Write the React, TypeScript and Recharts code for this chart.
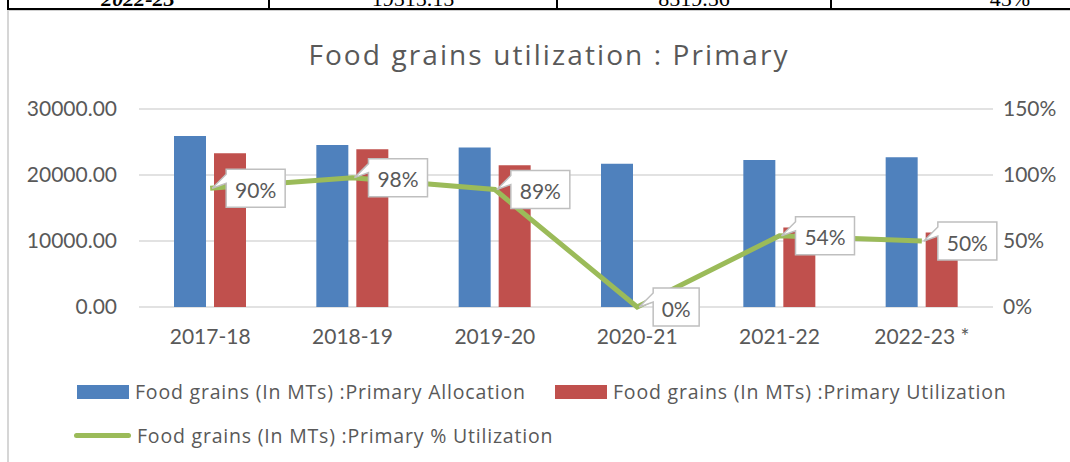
import React from "react";
import {
  ComposedChart,
  Bar,
  Line,
  XAxis,
  YAxis,
  CartesianGrid,
  LabelList,
} from "recharts";

const years = ["2017-18", "2018-19", "2019-20", "2020-21", "2021-22", "2022-23 *"];
const allocation = [25900, 24550, 24150, 21720, 22270, 22680];
const utilization = [23290, 23890, 21470, 0, 12060, 11300];
const pctUtilization = [90, 98, 89, 0, 54, 50];

const leftTicks = [0, 10000, 20000, 30000];
const rightTicks = [0, 50, 100, 150];

const tableRow = ["2022-23", "19515.15", "8519.56", "45%"];

const BLUE = "#4f81bd";
const RED = "#c0504d";
const GREEN = "#9bbb59";
const TEXT = "#595959";
const FONT = "Lato, 'Open Sans', sans-serif";
const WIDE_FONT = "'Open Sans', Lato, sans-serif";

const data = years.map((year, i) => ({
  year,
  allocation: allocation[i],
  utilization: utilization[i],
  pct: pctUtilization[i],
}));

// callout box for the % labels, drawn right of the point with a little pointer
function Callout(props: any) {
  const { x, y, value } = props;
  if (x == null || y == null) return null;
  const text = `${value}%`;
  const w = text.length === 2 ? 46 : 59;
  const h = 38;
  const bx = x + 16;
  const by = y - h / 2;
  const d = [
    `M${bx},${by}`,
    `L${bx + w},${by}`,
    `L${bx + w},${by + h}`,
    `L${bx},${by + h}`,
    `L${bx},${by + 14}`,
    `L${x + 2},${y}`,
    `L${bx},${by + 5}`,
    "Z",
  ].join(" ");
  return (
    <g>
      <path d={d} fill="#fff" stroke="#bfbfbf" strokeWidth={1.5} />
      <text
        x={bx + w / 2}
        y={y + 1}
        textAnchor="middle"
        dominantBaseline="central"
        fill={TEXT}
        fontSize={21}
        fontFamily={FONT}
      >
        {text}
      </text>
    </g>
  );
}

function LegendItem({ kind, color, label, left, top }: any) {
  return (
    <div style={{ position: "absolute", left, top, display: "flex", alignItems: "center" }}>
      {kind === "bar" ? (
        <div style={{ width: 52, height: 14, background: color }} />
      ) : (
        <div style={{ width: 57, height: 5, background: color, borderRadius: 3, marginLeft: -3 }} />
      )}
      <span
        style={{
          marginLeft: 6,
          fontSize: 19.5,
          letterSpacing: 0.8,
          color: TEXT,
          fontFamily: WIDE_FONT,
          whiteSpace: "nowrap",
        }}
      >
        {label}
      </span>
    </div>
  );
}

export default function App() {
  const cellCenters = [138, 413, 694, 1010];
  return (
    <div
      style={{
        position: "absolute",
        left: 0,
        top: 0,
        width: 1070,
        height: 462,
        background: "#fff",
        overflow: "hidden",
      }}
    >
      {/* bit of the table row above the chart */}
      <div style={{ position: "absolute", left: 0, top: 0, width: 1070, height: 8, overflow: "hidden" }}>
        {tableRow.map((t, i) => (
          <div
            key={t}
            style={{
              position: "absolute",
              top: -12,
              left: cellCenters[i] - 60,
              width: 120,
              textAlign: "center",
              fontFamily: "'Liberation Serif', serif",
              fontSize: 22,
              lineHeight: "22px",
              fontWeight: i === 0 ? "bold" : "normal",
              fontStyle: i === 0 ? "italic" : "normal",
            }}
          >
            {t}
          </div>
        ))}
      </div>
      {[8, 269, 557, 831].map((x) => (
        <div key={x} style={{ position: "absolute", left: x - 1, top: 0, width: 2, height: 9, background: "#000" }} />
      ))}
      <div style={{ position: "absolute", left: 7, top: 8, width: 1063, height: 2, background: "#000" }} />
      <div style={{ position: "absolute", left: 7, top: 10, width: 1063, height: 1, background: "#d0d0d0" }} />
      <div style={{ position: "absolute", left: 7, top: 10, width: 2, height: 452, background: "#d6d6d6" }} />

      <div
        style={{
          position: "absolute",
          left: 0,
          top: 36,
          width: 1098,
          textAlign: "center",
          fontFamily: WIDE_FONT,
          fontSize: 28,
          letterSpacing: 2.1,
          lineHeight: "36px",
          color: TEXT,
        }}
      >
        Food grains utilization : Primary
      </div>

      <div style={{ position: "absolute", left: 0, top: 0 }}>
        <ComposedChart
          width={1070}
          height={462}
          data={data}
          margin={{ top: 109, right: 0, bottom: 115, left: 0 }}
          barGap={8}
        >
          <CartesianGrid yAxisId="left" vertical={false} stroke="#d9d9d9" strokeWidth={1.5} />
          <XAxis
            dataKey="year"
            axisLine={false}
            tickLine={false}
            tickSize={0}
            tickMargin={22}
            height={40}
            tick={{ fill: TEXT, fontSize: 21, fontFamily: FONT }}
          />
          <YAxis
            yAxisId="left"
            domain={[0, 30000]}
            ticks={leftTicks}
            width={139}
            axisLine={false}
            tickLine={false}
            tickSize={0}
            tickMargin={22}
            tickFormatter={(v: number) => v.toFixed(2)}
            tick={{ fill: TEXT, fontSize: 21, fontFamily: FONT }}
          />
          <YAxis
            yAxisId="right"
            orientation="right"
            domain={[0, 150]}
            ticks={rightTicks}
            width={77}
            axisLine={false}
            tickLine={false}
            tickSize={0}
            tickMargin={10}
            tickFormatter={(v: number) => `${v}%`}
            tick={{ fill: TEXT, fontSize: 21, fontFamily: FONT, textAnchor: "start" }}
          />
          <Bar yAxisId="left" dataKey="allocation" fill={BLUE} barSize={32} isAnimationActive={false} />
          <Bar yAxisId="left" dataKey="utilization" fill={RED} barSize={32} isAnimationActive={false} />
          <Line
            yAxisId="right"
            type="linear"
            dataKey="pct"
            stroke={GREEN}
            strokeWidth={5}
            dot={false}
            activeDot={false}
            isAnimationActive={false}
          >
            <LabelList dataKey="pct" content={<Callout />} />
          </Line>
        </ComposedChart>
      </div>

      <LegendItem kind="bar" color={BLUE} label="Food grains (In MTs) :Primary Allocation" left={77} top={378} />
      <LegendItem kind="bar" color={RED} label="Food grains (In MTs) :Primary Utilization" left={555} top={378} />
      <LegendItem kind="line" color={GREEN} label="Food grains (In MTs) :Primary % Utilization" left={77} top={422} />
    </div>
  );
}
